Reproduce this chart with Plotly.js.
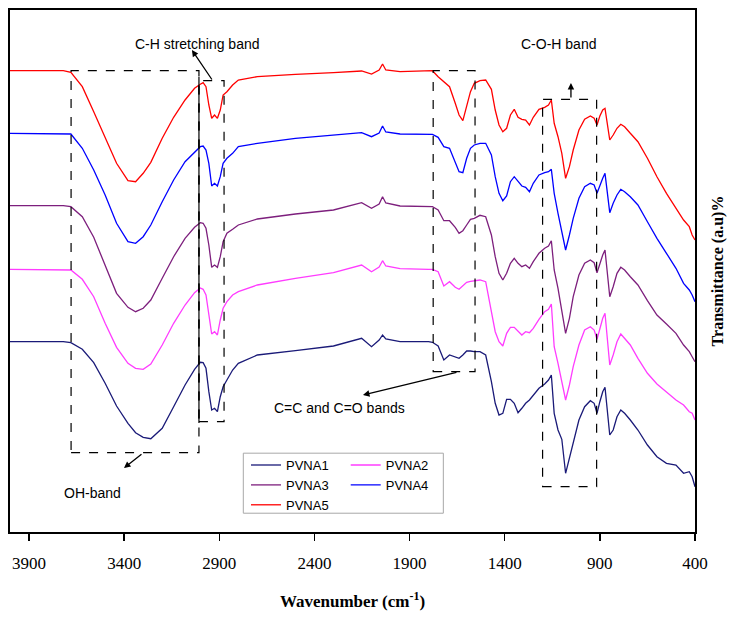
<!DOCTYPE html>
<html>
<head>
<meta charset="utf-8">
<script src="https://cdn.plot.ly/plotly-3.0.1.min.js"></script>
<style>html,body{margin:0;padding:0;background:#fff;}#chart{width:738px;height:627px;}</style>
</head>
<body>
<div id="chart"></div>
<script>
// Wavenumber grid (cm^-1)
const wavenumber = [4000,3800,3720,3680,3620,3560,3500,3440,3380,3340,3300,3260,3200,3140,3080,3030,3000,2985,2970,2955,2940,2925,2910,2895,2880,2860,2830,2800,2700,2500,2300,2152,2100,2060,2042,2025,1950,1800,1780,1750,1720,1690,1660,1640,1620,1600,1580,1560,1530,1500,1470,1450,1430,1410,1390,1370,1350,1330,1310,1290,1270,1250,1220,1190,1170,1155,1140,1120,1100,1080,1060,1040,1010,980,950,930,915,900,885,873,860,848,830,810,790,770,740,700,650,600,550,500,460,430,415,400];

// Transmittance (a.u.), stacked spectra
const PVNA5 = [461.3,461.3,461.3,459.7,445.3,420.3,393.7,368.7,351.3,350.3,358.7,369.7,393.7,414.7,432,443.7,447.7,449.3,445.3,427,413.7,417,413.7,422,437,440.3,447,452,455.3,457.7,459.3,461,458,462,468,462,460.3,460.7,461.3,455.3,450.3,445.3,428.7,417,411.3,427,440.3,448.7,451.3,452,442.7,422,407,400.3,403.7,417,422.7,414.7,412.7,412,407,414.7,422.7,424.7,427,432,408.7,395.3,378.7,353.7,365.3,382,402,412.7,416,413.7,407,416,422,423.7,405.3,392,397,403.7,407.7,405.3,398.7,390.3,373.7,355.3,338.7,323.7,312,305.3,297,292];
const PVNA4 = [398.7,398.7,398.7,398,383.7,362,337,308.7,290.3,288.7,295.3,307,330.3,352,370.3,380.3,385.3,386,382,368.7,346,348.7,346,355.3,368.7,373.7,378.7,385.3,388.7,393.7,396.7,399.3,395.3,399,406,400,398,397.7,397.7,394.7,385.3,383.7,370.3,360.3,359.3,373.7,383.7,387,388.7,388.7,377,355.3,338.7,331.3,336,350.3,355.3,350.3,346,344.7,340.3,348.7,357,359.3,360.3,362.7,338.7,318.7,302,282,297,313.7,333.7,345.3,348.7,347,338.7,347,353.7,358.7,338.7,319.3,328.7,337,342.7,340.3,335.3,327,310.3,293.7,278.7,263.7,248.7,242,237,230.3];
const PVNA3 = [326.3,326.3,326.3,325.3,315.3,294.7,267,238.7,224.7,220.3,223.7,232,253.7,275.3,293.7,304.7,309.3,308.7,303.7,287,264.7,267,264.7,275.3,290.3,298.7,302.7,307,313,318,322,329.3,323.7,328,335.3,329,326,325.3,325.3,322,311.3,311.3,304.7,298.7,301.3,307,312.7,313.7,316.7,315.3,297,275.3,258.7,252,258.7,268.7,273.7,268.7,265.3,267,263.7,270.3,278.7,283.7,286,291.3,262,243.7,222,198.7,213.7,235.3,257,268.7,272,269.3,259.3,268.7,277,282,258.7,235.3,245.3,258.7,264.7,262,255.3,247,231.3,217,208,198.7,187,180.3,175.3,170.3];
const PVNA2 = [262.7,262.7,262.7,262,252.7,235.3,208.7,184.7,168.7,163.7,162.7,168,187,208.7,227,239.3,244,242.7,237,217,198,200.3,197,212,223.7,230.3,237,240.3,247,253.7,259.3,267,260.3,265,271.3,266,263.3,262.7,262.7,260.3,246,250.3,244.7,242.7,246,249.7,250.7,251.3,252,250.3,220.3,200.3,190.3,186,198.7,204.7,204.7,200.3,197,200.3,199.3,203.7,212.7,220.3,222.7,228,185.3,168.7,150.3,132,147,165.3,187,202,205.3,202,192.7,203.7,213.7,218.7,190.3,167,177,190.3,198,193.7,187,173.7,158.7,148,140.3,132,127,120.3,118.7,112];
const PVNA1 = [190.3,190.3,190.3,189.3,182.7,169.3,148.7,126,108.7,99.3,94.7,93.3,103.7,125.3,147,162.7,169.7,169.3,163.7,140.3,122,123.7,120.3,135.3,145.3,152,162,168.7,177,181.3,186,193.7,185.3,192,197,193,190.3,190.3,189.7,186,172,177,175.3,173.7,177,181,181,180.3,180.3,177,150.3,128.7,117,118.7,132.7,132.7,128.7,119.3,123.7,128.7,132,137,143.7,148,152,157,118.7,102,92.7,58.7,73.7,90.3,112,125.3,131.3,128.7,118.7,130.3,140.3,144.7,118.7,97,102,115.3,122,118.7,112,102,87,75.3,68.7,67,58.7,60.3,55.3,45.3];

const seriesNames = ['PVNA1','PVNA2','PVNA3','PVNA4','PVNA5'];
const seriesValues = [PVNA1, PVNA2, PVNA3, PVNA4, PVNA5];
const seriesColors = ['#1a1a78','#ff3cff','#7d1f7d','#0000ff','#ff0000'];
const seriesLegend = ['legend','legend2','legend','legend2','legend'];
const xTicks = [3900,3400,2900,2400,1900,1400,900,400];

// Band boxes [wn left, wn right, y bottom, y top]
const bandBoxes = [
  [3679, 3007, 79.3, 461.3],   // OH band
  [3007, 2875, 110.3, 451.3],  // C-H stretching
  [1776, 1556, 160.3, 461.3],  // C=C and C=O
  [1201, 917, 45.3, 432.7]     // C-O-H
];

const traces = seriesNames.map((n, i) => ({
  type: 'scatter', mode: 'lines', name: n,
  x: wavenumber, y: seriesValues[i],
  line: {color: seriesColors[i], width: 1.3},
  legend: seriesLegend[i]
}));

const shapes = bandBoxes.map(b => ({
  type: 'rect', xref: 'x', yref: 'y', x0: b[0], x1: b[1], y0: b[2], y1: b[3],
  line: {color: '#000', width: 1.2, dash: 'dash'}, fillcolor: 'rgba(0,0,0,0)'
}));
// solid left edge of C-H box
shapes.push({type: 'line', xref: 'x', yref: 'y', x0: 3007, x1: 3007, y0: 109, y1: 455, line: {color: '#000', width: 1.2}});
// legend frame
shapes.push({type: 'rect', xref: 'paper', yref: 'paper', x0: 0.3406, x1: 0.6326, y0: 0.036, y1: 0.151, line: {color: '#a8a8a8', width: 1}});

const annFont = {family: 'Liberation Sans, Arial, sans-serif', size: 14, color: '#000'};
const annotations = [
  {x: 3012, y: 488, xref: 'x', yref: 'y', text: 'C-H stretching band', showarrow: false, font: annFont},
  {x: 1120, y: 488, xref: 'x', yref: 'y', text: 'C-O-H band', showarrow: false, font: annFont},
  {x: 2266, y: 124, xref: 'x', yref: 'y', text: 'C=C and C=O bands', showarrow: false, font: annFont},
  {x: 3569, y: 39, xref: 'x', yref: 'y', text: 'OH-band', showarrow: false, font: annFont},
  {x: 3044, y: 482, xref: 'x', yref: 'y', text: '', showarrow: true, ax: 21, ay: 31, arrowhead: 2, arrowsize: 1, arrowwidth: 1.3, arrowcolor: '#000'},
  {x: 3401, y: 64, xref: 'x', yref: 'y', text: '', showarrow: true, ax: 19, ay: -15, arrowhead: 2, arrowsize: 1, arrowwidth: 1.3, arrowcolor: '#000'},
  {x: 2145, y: 137, xref: 'x', yref: 'y', text: '', showarrow: true, ax: 95, ay: -23, arrowhead: 2, arrowsize: 1, arrowwidth: 1.3, arrowcolor: '#000'},
  {x: 1052, y: 449, xref: 'x', yref: 'y', text: '', showarrow: true, ax: 0, ay: 16, arrowhead: 2, arrowsize: 1, arrowwidth: 1.3, arrowcolor: '#000'}
];

const legFont = {family: 'Liberation Sans, Arial, sans-serif', size: 13, color: '#000'};
const layout = {
  width: 738, height: 627,
  margin: {l: 10, r: 43, t: 10, b: 95},
  paper_bgcolor: '#fff', plot_bgcolor: '#fff',
  showlegend: true,
  xaxis: {
    range: [4000, 400], tickvals: xTicks, ticktext: xTicks.map(String),
    ticks: 'outside', ticklen: 7, tickwidth: 1.5, tickcolor: '#000',
    ticklabelstandoff: 8,
    showline: true, linewidth: 2, linecolor: '#000', mirror: true,
    showgrid: false, zeroline: false, automargin: false,
    tickfont: {family: 'Liberation Serif, Times New Roman, serif', size: 17, color: '#000'},
    title: {text: '<b>Wavenumber (cm<sup>-1</sup>)</b>', standoff: 23, font: {family: 'Liberation Serif, Times New Roman, serif', size: 17, color: '#000'}}
  },
  yaxis: {
    range: [0, 522], side: 'right', showticklabels: false, ticks: '',
    showline: true, linewidth: 2, linecolor: '#000', mirror: true,
    showgrid: false, zeroline: false, automargin: false,
    title: {text: '<b>Transmittance (a.u)%</b>', standoff: 16, font: {family: 'Liberation Serif, Times New Roman, serif', size: 16, color: '#000'}}
  },
  legend: {x: 0.3445, y: 0.157, xanchor: 'left', yanchor: 'top', bgcolor: 'rgba(0,0,0,0)', borderwidth: 0, font: legFont, traceorder: 'normal'},
  legend2: {x: 0.4901, y: 0.157, xanchor: 'left', yanchor: 'top', bgcolor: 'rgba(0,0,0,0)', borderwidth: 0, font: legFont, traceorder: 'normal'},
  shapes: shapes,
  annotations: annotations
};

Plotly.newPlot('chart', traces, layout, {displayModeBar: false, staticPlot: true});
</script>
</body>
</html>
